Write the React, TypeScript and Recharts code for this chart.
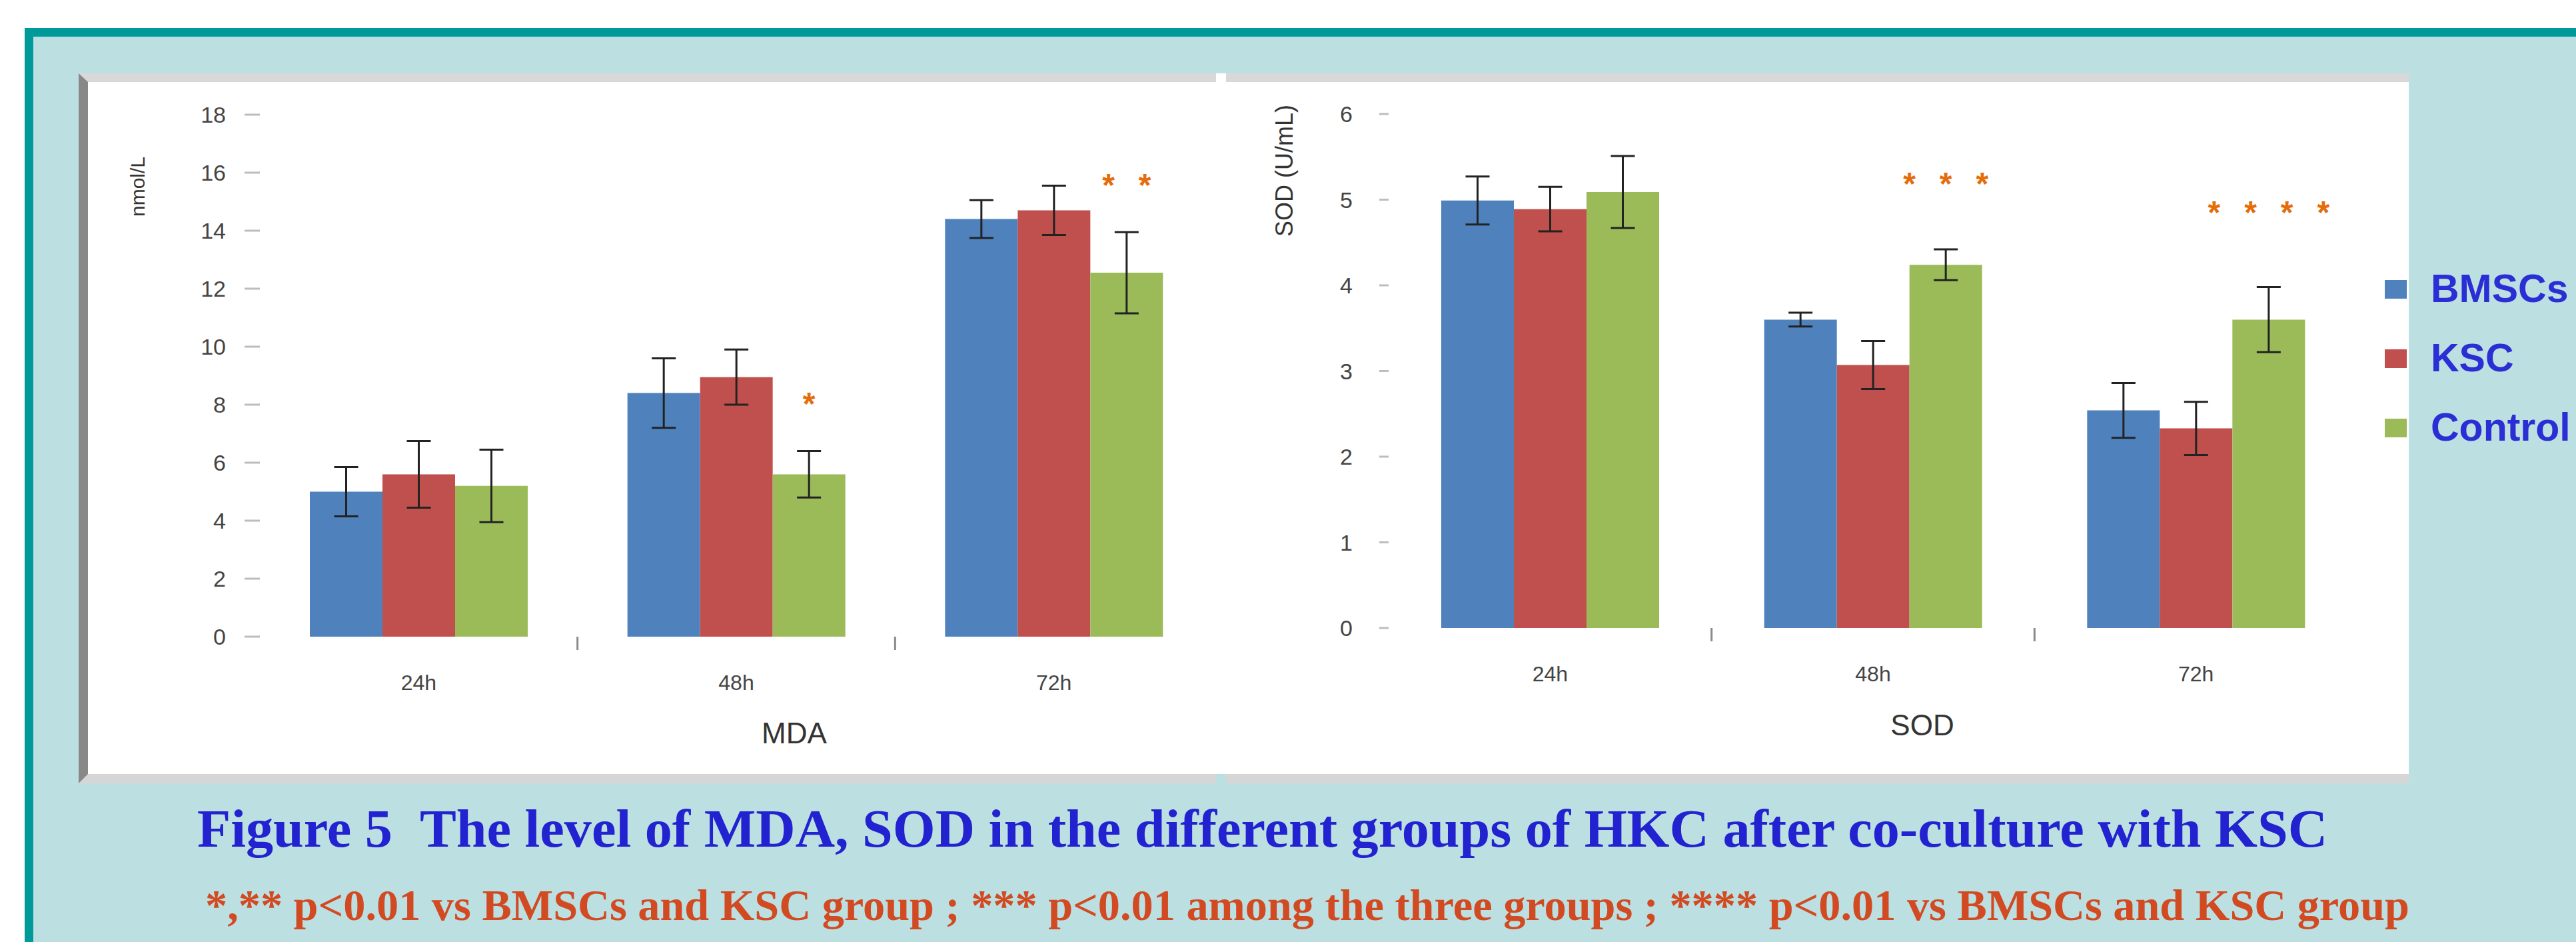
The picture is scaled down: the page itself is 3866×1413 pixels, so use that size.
import React from "react";
import { BarChart, Bar, XAxis, YAxis, ErrorBar, LabelList } from "recharts";

// categories and series
const categories = ["24h", "48h", "72h"];
const seriesNames = ["BMSCs", "KSC", "Control"];
const seriesColors = ["#4f81bd", "#c0504d", "#9bbb59"];

// MDA panel (left)
const mdaTicks = [0, 2, 4, 6, 8, 10, 12, 14, 16, 18];
const mdaBMSC = [5.0, 8.4, 14.4];
const mdaKSC = [5.6, 8.95, 14.7];
const mdaControl = [5.2, 5.6, 12.55];
const mdaBMSCErr = [0.85, 1.2, 0.65];
const mdaKSCErr = [1.15, 0.95, 0.85];
const mdaControlErr = [1.25, 0.8, 1.4];
const mdaSig = ["", "*", "**"];
const mdaSigY = [0, 8.3, 15.85];

// SOD panel (right)
const sodTicks = [0, 1, 2, 3, 4, 5, 6];
const sodBMSC = [4.99, 3.6, 2.54];
const sodKSC = [4.89, 3.07, 2.33];
const sodControl = [5.09, 4.24, 3.6];
const sodBMSCErr = [0.28, 0.08, 0.32];
const sodKSCErr = [0.26, 0.28, 0.31];
const sodControlErr = [0.42, 0.18, 0.38];
const sodSig = ["", "***", "****"];
const sodSigY = [0, 5.28, 4.94];

const buildRows = (a: number[], b: number[], c: number[], ea: number[], eb: number[], ec: number[], sig: string[]) =>
  categories.map((name, i) => ({
    name,
    BMSCs: a[i],
    KSC: b[i],
    Control: c[i],
    errB: ea[i],
    errK: eb[i],
    errC: ec[i],
    sig: sig[i],
  }));

const mdaData = buildRows(mdaBMSC, mdaKSC, mdaControl, mdaBMSCErr, mdaKSCErr, mdaControlErr, mdaSig);
const sodData = buildRows(sodBMSC, sodKSC, sodControl, sodBMSCErr, sodKSCErr, sodControlErr, sodSig);

const SANS = "'Liberation Sans', Arial, sans-serif";
const SERIF = "'Liberation Serif', 'Times New Roman', serif";

// category ticks with marks between categories (Excel style)
const makeCategoryTick = (band: number) => (props: any) => {
  const { x, y, payload, index } = props;
  return (
    <g>
      {index > 0 && (
        <line x1={x - band / 2} x2={x - band / 2} y1={y} y2={y + 20} stroke="#8a8a8a" strokeWidth={3} />
      )}
      <text x={x} y={y + 80} textAnchor="middle" fontSize={32} fill="#444" fontFamily={SANS}>
        {payload.value}
      </text>
    </g>
  );
};

// significance stars, placed in data units above the bar
const makeSigLabel = (vals: number[], sigY: number[], sig: string[]) => (props: any) => {
  const { index } = props;
  const vb = props.viewBox ?? props;
  const { x, y, width, height } = vb;
  const text = sig[index];
  if (!text) return null;
  const base = y + height;
  const cy = base - (sigY[index] * height) / vals[index];
  return (
    <text
      x={x + width / 2 + 18}
      y={cy + 28}
      textAnchor="middle"
      fontSize={48}
      fontWeight="bold"
      letterSpacing={36}
      fill="#e46c0a"
      fontFamily={SANS}
    >
      {text}
    </text>
  );
};

interface PanelProps {
  data: any[];
  width: number;
  height: number;
  margin: { top: number; right: number; bottom: number; left: number };
  ticks: number[];
  tickSize: number;
  tickMargin: number;
  vals: number[];
  sigY: number[];
  sig: string[];
}

const Panel: React.FC<PanelProps> = ({ data, width, height, margin, ticks, tickSize, tickMargin, vals, sigY, sig }) => {
  const band = (width - margin.left - margin.right - 120) / categories.length;
  const errKeys = ["errB", "errK", "errC"];
  return (
    <BarChart width={width} height={height} data={data} margin={margin} barGap={0} barSize={109}>
      <XAxis
        dataKey="name"
        axisLine={false}
        tickLine={false}
        tickSize={0}
        tickMargin={0}
        height={60}
        interval={0}
        tick={makeCategoryTick(band)}
      />
      <YAxis
        width={120}
        domain={[ticks[0], ticks[ticks.length - 1]]}
        ticks={ticks}
        interval={0}
        axisLine={false}
        tickLine={{ stroke: "#bdbdbd", strokeWidth: 3 }}
        tickSize={tickSize}
        tickMargin={tickMargin}
        tick={{ fontSize: 34, fill: "#444", fontFamily: SANS }}
      />
      {seriesNames.map((s, i) => (
        <Bar key={s} dataKey={s} name={s} fill={seriesColors[i]} isAnimationActive={false}>
          <ErrorBar dataKey={errKeys[i]} width={18} strokeWidth={3} stroke="#222" direction="y" />
          {i === 2 && <LabelList dataKey="sig" content={makeSigLabel(vals, sigY, sig)} />}
        </Bar>
      ))}
    </BarChart>
  );
};

const abs = (l: number, t: number, w: number, h: number): React.CSSProperties => ({
  position: "absolute",
  left: l,
  top: t,
  width: w,
  height: h,
});

const App: React.FC = () => {
  return (
    <div style={{ ...abs(0, 0, 3866, 1413), overflow: "hidden", background: "#fff", fontFamily: SANS }}>
      {/* teal frame + light blue background */}
      <div
        style={{
          ...abs(37, 42, 3900, 1450),
          background: "#bce0e2",
          borderTop: "13px solid #009a9a",
          borderLeft: "13px solid #009a9a",
          boxSizing: "border-box",
        }}
      />

      {/* white chart panels */}
      <div
        style={{
          ...abs(118, 110, 1707, 1065),
          background: "#fff",
          borderTop: "13px solid #d8d8d8",
          borderLeft: "14px solid #888",
          borderBottom: "14px solid #d6d6d6",
          boxSizing: "border-box",
        }}
      />
      <div style={{ ...abs(1825, 110, 15, 1051), background: "#fff" }} />
      <div
        style={{
          ...abs(1840, 110, 1775, 1065),
          background: "#fff",
          borderTop: "13px solid #d8d8d8",
          borderBottom: "14px solid #d6d6d6",
          boxSizing: "border-box",
        }}
      />

      {/* MDA chart */}
      <div style={abs(132, 123, 1693, 1038)}>
        <Panel
          data={mdaData}
          width={1693}
          height={1038}
          margin={{ top: 49, right: 5, bottom: 146, left: 138 }}
          ticks={mdaTicks}
          tickSize={23}
          tickMargin={28}
          vals={mdaControl}
          sigY={mdaSigY}
          sig={mdaSig}
        />
      </div>

      {/* SOD chart */}
      <div style={abs(1840, 123, 1775, 1038)}>
        <Panel
          data={sodData}
          width={1775}
          height={1038}
          margin={{ top: 48, right: 77, bottom: 159, left: 124 }}
          ticks={sodTicks}
          tickSize={14}
          tickMargin={40}
          vals={sodControl}
          sigY={sodSigY}
          sig={sodSig}
        />
      </div>

      {/* axis titles */}
      <div style={{ ...abs(1092, 1074, 200, 52), textAlign: "center", fontSize: 44, lineHeight: "52px", color: "#333" }}>MDA</div>
      <div style={{ ...abs(2785, 1062, 200, 52), textAlign: "center", fontSize: 44, lineHeight: "52px", color: "#333" }}>SOD</div>
      <div
        style={{
          ...abs(57, 260, 300, 40),
          textAlign: "center",
          fontSize: 30,
          lineHeight: "40px",
          color: "#333",
          transform: "rotate(-90deg)",
        }}
      >
        nmol/L
      </div>
      <div
        style={{
          ...abs(1778, 234, 300, 44),
          textAlign: "center",
          fontSize: 36,
          lineHeight: "44px",
          color: "#333",
          transform: "rotate(-90deg)",
        }}
      >
        SOD (U/mL)
      </div>

      {/* legend */}
      {seriesNames.map((s, i) => (
        <React.Fragment key={s}>
          <div style={{ ...abs(3579, 420 + i * 104, 33, 28), background: seriesColors[i] }} />
          <div
            style={{
              ...abs(3648, 398 + i * 104, 218, 70),
              fontSize: 59,
              lineHeight: "70px",
              fontWeight: "bold",
              color: "#2a2ed4",
              whiteSpace: "nowrap",
            }}
          >
            {s}
          </div>
        </React.Fragment>
      ))}

      {/* caption */}
      <svg style={abs(0, 1180, 3866, 233)} width={3866} height={233}>
        <text
          x={296}
          y={90}
          fontFamily={SERIF}
          fontWeight="bold"
          fontSize={80}
          fill="#2222d0"
          textLength={3197}
          lengthAdjust="spacingAndGlyphs"
        >
          {"Figure 5\u00a0\u00a0The level of MDA, SOD in the different groups of HKC after co-culture with KSC"}
        </text>
        <text
          x={308}
          y={200}
          fontFamily={SERIF}
          fontWeight="bold"
          fontSize={66}
          fill="#d24a22"
          textLength={3308}
          lengthAdjust="spacingAndGlyphs"
        >
          {"*,** p<0.01 vs BMSCs and KSC group ; *** p<0.01 among the three groups ; **** p<0.01 vs BMSCs and KSC group"}
        </text>
      </svg>
    </div>
  );
};

export default App;
